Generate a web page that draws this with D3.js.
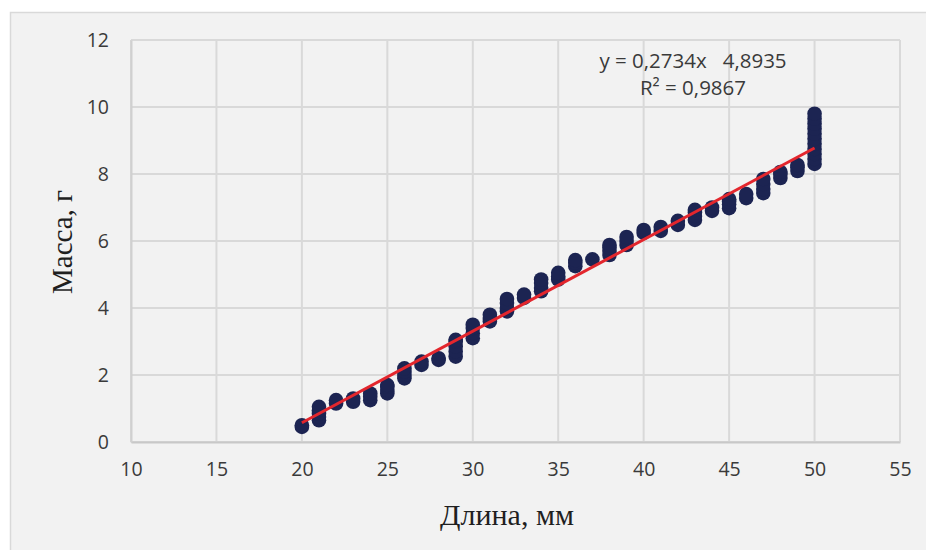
<!DOCTYPE html>
<html>
<head>
<meta charset="utf-8">
<script src="https://cdn.jsdelivr.net/npm/d3@7"></script>
<style>
  html, body { margin: 0; padding: 0; background: #ffffff; }
  svg { display: block; }
</style>
</head>
<body>
<svg id="chart" width="926" height="550"></svg>
<script>
// ---- data ----
const lengthsMm = [
  20, 20,
  21, 21, 21, 21, 21,
  22, 22,
  23, 23,
  24, 24, 24,
  25, 25, 25, 25,
  26, 26, 26, 26,
  27, 27,
  28, 28,
  29, 29, 29, 29, 29,
  30, 30, 30, 30,
  31, 31, 31,
  32, 32, 32, 32,
  33, 33,
  34, 34, 34, 34,
  35, 35, 35,
  36, 36, 36,
  37,
  38, 38, 38, 38,
  39, 39, 39,
  40, 40,
  41, 41,
  42, 42,
  43, 43, 43, 43,
  44, 44,
  45, 45, 45, 45,
  46, 46,
  47, 47, 47, 47,
  48, 48, 48,
  49, 49, 49,
  50, 50, 50, 50, 50, 50, 50, 50, 50, 50, 50
];
const massesG = [
  0.45, 0.5,
  0.65, 0.75, 0.85, 0.95, 1.05,
  1.15, 1.25,
  1.2, 1.3,
  1.25, 1.35, 1.45,
  1.45, 1.55, 1.65, 1.7,
  1.9, 2.0, 2.1, 2.2,
  2.3, 2.4,
  2.45, 2.5,
  2.55, 2.7, 2.85, 3.0, 3.05,
  3.1, 3.25, 3.4, 3.5,
  3.6, 3.7, 3.8,
  3.9, 4.0, 4.15, 4.27,
  4.3, 4.4,
  4.5, 4.6, 4.75, 4.85,
  4.85, 4.95, 5.05,
  5.25, 5.35, 5.43,
  5.45,
  5.58, 5.7, 5.8, 5.88,
  5.88, 6.0, 6.12,
  6.24, 6.33,
  6.3, 6.42,
  6.48, 6.6,
  6.63, 6.75, 6.85, 6.93,
  6.9, 7.0,
  6.98, 7.1, 7.18, 7.25,
  7.28, 7.4,
  7.43, 7.55, 7.7, 7.85,
  7.88, 8.0, 8.06,
  8.09, 8.2, 8.27,
  8.3, 8.45, 8.6, 8.75, 8.9, 9.05, 9.2, 9.35, 9.5, 9.65, 9.8
];
const xTicks = [10, 15, 20, 25, 30, 35, 40, 45, 50, 55];
const yTicks = [0, 2, 4, 6, 8, 10, 12];
const trendSlope = 0.2734;
const trendIntercept = -4.8935;
const trendRange = [20, 50];
const equationLines = ["y = 0,2734x \u00A0 4,8935", "R\u00B2 = 0,9867"];
const xTitle = "Длина,  мм";
const yTitle = "Масса, г";

// ---- layout ----
const svg = d3.select("#chart");
const W = 926, H = 550;
const plot = { left: 131, right: 900, top: 40, bottom: 442 };

svg.append("rect").attr("x", 0).attr("y", 0).attr("width", W).attr("height", H).attr("fill", "#ffffff");
svg.append("rect").attr("x", 10.5).attr("y", 12.5).attr("width", W).attr("height", H)
  .attr("fill", "#f2f2f2").attr("stroke", "#d9d9d9").attr("stroke-width", 1.5);

const x = d3.scaleLinear().domain([10, 55]).range([plot.left, plot.right]);
const y = d3.scaleLinear().domain([0, 12]).range([plot.bottom, plot.top]);

// gridlines
const grid = svg.append("g");
grid.selectAll("line.v").data(xTicks).join("line")
  .attr("x1", d => x(d)).attr("x2", d => x(d))
  .attr("y1", plot.top).attr("y2", plot.bottom)
  .attr("stroke", "#d9d9d9").attr("stroke-width", 2);
grid.selectAll("line.h").data(yTicks).join("line")
  .attr("x1", plot.left).attr("x2", plot.right)
  .attr("y1", d => y(d)).attr("y2", d => y(d))
  .attr("stroke", "#d9d9d9").attr("stroke-width", 2);

// axes
const xAxis = d3.axisBottom(x).tickValues(xTicks).tickSize(0).tickPadding(20).tickFormat(d3.format("d"));
const yAxis = d3.axisLeft(y).tickValues(yTicks).tickSize(0).tickPadding(22).tickFormat(d3.format("d"));
const gx = svg.append("g").attr("transform", `translate(0,${plot.bottom})`).call(xAxis);
const gy = svg.append("g").attr("transform", `translate(${plot.left},0)`).call(yAxis);
[gx, gy].forEach(g => {
  g.select(".domain").attr("stroke", "#c8c8c8").attr("stroke-width", 2);
  g.selectAll("text").attr("font-family", "'Open Sans', sans-serif").attr("font-size", 19.5).attr("fill", "#3a3a3a");
});
gy.select(".domain").attr("stroke", "#d0d0d0");

// points
svg.append("g").selectAll("circle").data(d3.range(lengthsMm.length)).join("circle")
  .attr("cx", i => x(lengthsMm[i]))
  .attr("cy", i => y(massesG[i]))
  .attr("r", 7.3)
  .attr("fill", "#1c2452");

// trend line
svg.append("line")
  .attr("x1", x(trendRange[0])).attr("y1", y(trendSlope * trendRange[0] + trendIntercept))
  .attr("x2", x(trendRange[1])).attr("y2", y(trendSlope * trendRange[1] + trendIntercept))
  .attr("stroke", "#e3262d").attr("stroke-width", 3);

// equation
svg.append("g").selectAll("text").data(equationLines).join("text")
  .attr("x", 693).attr("y", (d, i) => 68 + i * 27)
  .attr("text-anchor", "middle")
  .attr("font-family", "'Open Sans', sans-serif").attr("font-size", 20.5).attr("fill", "#3a3a3a")
  .text(d => d);

// axis titles
svg.append("text").attr("x", 507).attr("y", 525).attr("text-anchor", "middle")
  .attr("font-family", "'Liberation Serif', 'Times New Roman', serif").attr("font-size", 30).attr("fill", "#1f1f1f")
  .text(xTitle);
svg.append("text").attr("transform", "translate(72,242) rotate(-90)").attr("text-anchor", "middle")
  .attr("font-family", "'Liberation Serif', 'Times New Roman', serif").attr("font-size", 29).attr("fill", "#1f1f1f")
  .text(yTitle);
</script>
</body>
</html>
